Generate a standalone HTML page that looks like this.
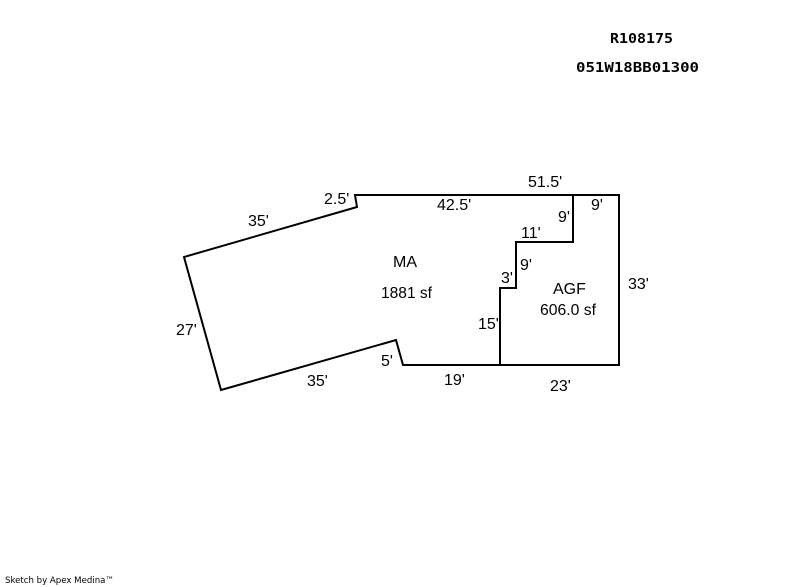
<!DOCTYPE html>
<html>
<head>
<meta charset="utf-8">
<style>
html,body{margin:0;padding:0;background:#fff;width:800px;height:587px;overflow:hidden}
svg{display:block}
text{font-family:"Liberation Sans",sans-serif;font-size:16px;fill:#000}
.h{font-family:"DejaVu Sans Mono",monospace;font-size:13px;font-weight:bold}
.f{font-family:"DejaVu Sans",sans-serif;font-size:9px}
</style>
</head>
<body>
<svg width="800" height="587" viewBox="0 0 800 587" xmlns="http://www.w3.org/2000/svg">
<g fill="none" stroke="#000" stroke-width="2" stroke-linejoin="miter" stroke-linecap="square">
<path d="M355 195H619V365H403L396 340L221 390L184 257L357 207Z"/>
<path d="M573 195V242H516V288H500V365"/>
</g>
<text class="h" x="610" y="43" textLength="63" lengthAdjust="spacingAndGlyphs">R108175</text>
<text class="h" x="576" y="72" textLength="123" lengthAdjust="spacingAndGlyphs">051W18BB01300</text>
<text x="528" y="187">51.5'</text>
<text x="324" y="204">2.5'</text>
<text x="437" y="210">42.5'</text>
<text x="591" y="210">9'</text>
<text x="558" y="222">9'</text>
<text x="248" y="226">35'</text>
<text x="521" y="238">11'</text>
<text x="393" y="267">MA</text>
<text x="520" y="270">9'</text>
<text x="501" y="283">3'</text>
<text x="628" y="289">33'</text>
<text x="553" y="294">AGF</text>
<text x="381" y="298" textLength="51" lengthAdjust="spacingAndGlyphs">1881 sf</text>
<text x="540" y="315" textLength="56" lengthAdjust="spacingAndGlyphs">606.0 sf</text>
<text x="478" y="329">15'</text>
<text x="176" y="335">27'</text>
<text x="381" y="366">5'</text>
<text x="444" y="385">19'</text>
<text x="307" y="386">35'</text>
<text x="550" y="391">23'</text>
<text class="f" x="5" y="583" textLength="109" lengthAdjust="spacingAndGlyphs">Sketch by Apex Medina™</text>
</svg>
</body>
</html>
